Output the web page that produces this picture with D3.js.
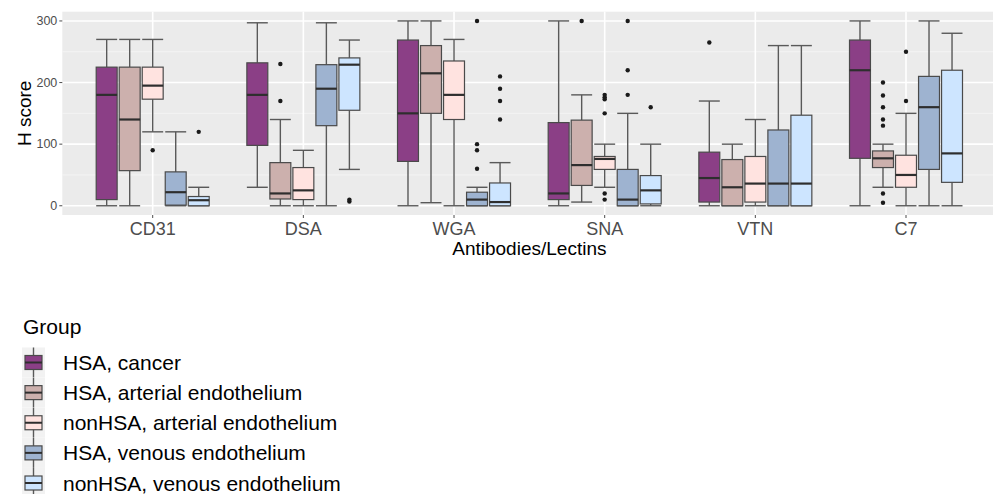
<!DOCTYPE html>
<html>
<head>
<meta charset="utf-8">
<script src="https://cdn.jsdelivr.net/npm/d3@7"></script>
<style>
  html, body { margin: 0; padding: 0; background: #fff; }
  svg { display: block; font-family: "Liberation Sans", Arial, sans-serif; }
</style>
</head>
<body>
<svg id="chart" width="993" height="494"></svg>
<script>
// ---------- data ----------
const categories = ["CD31", "DSA", "WGA", "SNA", "VTN", "C7"];
const groups = ["HSA, cancer", "HSA, arterial endothelium", "nonHSA, arterial endothelium",
                "HSA, venous endothelium", "nonHSA, venous endothelium"];
const groupColors = ["#8B3F86", "#CCB0AD", "#FFE3E0", "#9EB3D0", "#CDE5FF"];
const yTicks = [0, 100, 200, 300];

// [lower whisker, Q1, median, Q3, upper whisker] per category
const statsCancer       = [[0,10,180,225,270],[30,98,180,232,297],[0,72,150,269,300],[0,10,20,135,300],[0,6,45,87,170],[0,77,220,269,300]];
const statsArterialHSA  = [[0,57,140,225,270],[0,11,20,70,140],[5,150,215,260,300],[6,33,66,139,180],[0,0,30,75,100],[30,62,77,89,100]];
const statsArterialNon  = [[120,173,195,225,270],[0,10,25,62,90],[0,140,180,235,270],[30,59,76,80,100],[0,6,36,80,140],[0,30,50,82,150]];
const statsVenousHSA    = [[0,1,22,55,120],[0,130,190,229,297],[0,0,10,22,30],[0,0,10,59,150],[0,0,36,123,260],[0,59,160,210,300]];
const statsVenousNon    = [[0,0,9,15,30],[59,155,229,240,269],[0,0,6,37,70],[0,3,25,49,100],[0,0,36,147,260],[0,38,85,220,280]];

// outliers per category
const outCancer      = [[],[],[],[],[265],[]];
const outArterialHSA = [[],[230,170],[],[300],[],[200,179,160,140,130,20,5]];
const outArterialNon = [[90],[],[],[180,176,173,150,20,10],[],[250,170]];
const outVenousHSA   = [[],[],[300,100,90,60],[300,220,180],[],[]];
const outVenousNon   = [[120],[10,7],[210,190,170,140],[160],[],[]];

const allStats = [statsCancer, statsArterialHSA, statsArterialNon, statsVenousHSA, statsVenousNon];
const allOut = [outCancer, outArterialHSA, outArterialNon, outVenousHSA, outVenousNon];

// ---------- layout ----------
const svg = d3.select("#chart");
const panel = { left: 62.3, top: 11.7, bottom: 215, right: 996.4 };

const x = d3.scalePoint().domain(categories).range([panel.left, panel.right]).padding(0.6);
const step = x.step();
const xg = d3.scaleBand().domain(groups).range([-0.375 * step, 0.375 * step]).paddingInner(0.09);
const y = d3.scaleLinear().domain([-15, 315]).range([panel.bottom, panel.top]);

// panel background
svg.append("rect")
  .attr("x", panel.left).attr("y", panel.top)
  .attr("width", panel.right - panel.left).attr("height", panel.bottom - panel.top)
  .attr("fill", "#EBEBEB");

// minor gridlines
const minor = [50, 150, 250];
svg.append("g").selectAll("line").data(minor).join("line")
  .attr("x1", panel.left).attr("x2", panel.right)
  .attr("y1", d => y(d)).attr("y2", d => y(d))
  .attr("stroke", "#F5F5F5").attr("stroke-width", 0.9);
// major gridlines
svg.append("g").selectAll("line").data(yTicks).join("line")
  .attr("x1", panel.left).attr("x2", panel.right)
  .attr("y1", d => y(d)).attr("y2", d => y(d))
  .attr("stroke", "#FFFFFF").attr("stroke-width", 1.6);
svg.append("g").selectAll("line").data(categories).join("line")
  .attr("x1", d => x(d)).attr("x2", d => x(d))
  .attr("y1", panel.top).attr("y2", panel.bottom)
  .attr("stroke", "#FFFFFF").attr("stroke-width", 1.6);

// ---------- boxes ----------
const bw = xg.bandwidth();
groups.forEach((g, gi) => {
  const gEl = svg.append("g");
  categories.forEach((c, ci) => {
    const s = allStats[gi][ci];
    const x0 = x(c) + xg(g);
    const xc = x0 + bw / 2;
    // whiskers
    gEl.append("line").attr("x1", xc).attr("x2", xc).attr("y1", y(s[3])).attr("y2", y(s[4]))
      .attr("stroke", "#595959").attr("stroke-width", 1.4);
    gEl.append("line").attr("x1", xc).attr("x2", xc).attr("y1", y(s[1])).attr("y2", y(s[0]))
      .attr("stroke", "#595959").attr("stroke-width", 1.4);
    // caps
    [s[0], s[4]].forEach(v => {
      gEl.append("line").attr("x1", x0).attr("x2", x0 + bw).attr("y1", y(v)).attr("y2", y(v))
        .attr("stroke", "#595959").attr("stroke-width", 1.4);
    });
    // box
    gEl.append("rect").attr("x", x0).attr("width", bw)
      .attr("y", y(s[3])).attr("height", Math.max(0.5, y(s[1]) - y(s[3])))
      .attr("fill", groupColors[gi]).attr("stroke", "#4A4A4A").attr("stroke-width", 1.2);
    // median
    gEl.append("line").attr("x1", x0).attr("x2", x0 + bw).attr("y1", y(s[2])).attr("y2", y(s[2]))
      .attr("stroke", "#2E2E2E").attr("stroke-width", 2.2);
    // outliers
    gEl.selectAll(null).data(allOut[gi][ci]).join("circle")
      .attr("cx", xc).attr("cy", d => y(d)).attr("r", 2.2).attr("fill", "#1A1A1A");
  });
});

// ---------- axes ----------
const yAxis = svg.append("g");
yAxis.selectAll("line").data(yTicks).join("line")
  .attr("x1", panel.left - 3).attr("x2", panel.left)
  .attr("y1", d => y(d)).attr("y2", d => y(d))
  .attr("stroke", "#4D4D4D").attr("stroke-width", 1);
yAxis.selectAll("text").data(yTicks).join("text")
  .attr("x", panel.left - 5).attr("y", d => y(d))
  .attr("text-anchor", "end").attr("dominant-baseline", "central")
  .attr("font-size", 12.5).attr("fill", "#4D4D4D").text(d => d);

const xAxis = svg.append("g");
xAxis.selectAll("line").data(categories).join("line")
  .attr("x1", d => x(d)).attr("x2", d => x(d))
  .attr("y1", panel.bottom).attr("y2", panel.bottom + 3)
  .attr("stroke", "#4D4D4D").attr("stroke-width", 1);
xAxis.selectAll("text").data(categories).join("text")
  .attr("x", d => x(d)).attr("y", 235)
  .attr("text-anchor", "middle")
  .attr("font-size", 18).attr("fill", "#4D4D4D").text(d => d);

svg.append("text")
  .attr("x", (panel.left + panel.right) / 2).attr("y", 255)
  .attr("text-anchor", "middle").attr("font-size", 19).attr("fill", "#000")
  .text("Antibodies/Lectins");

svg.append("text")
  .attr("transform", `translate(31, ${(panel.top + panel.bottom) / 2}) rotate(-90)`)
  .attr("text-anchor", "middle").attr("font-size", 19).attr("fill", "#000")
  .text("H score");

// ---------- legend ----------
const legend = svg.append("g");
legend.append("text").attr("x", 23).attr("y", 334)
  .attr("font-size", 21).attr("fill", "#000").text("Group");
const keyY = d3.scalePoint().domain(groups).range([362.5, 483]);
groups.forEach((g, gi) => {
  const cy = keyY(g);
  legend.append("rect").attr("x", 22).attr("y", cy - 15).attr("width", 23).attr("height", 30)
    .attr("fill", "#F2F2F2");
  legend.append("line").attr("x1", 33.5).attr("x2", 33.5).attr("y1", cy - 15).attr("y2", cy + 15)
    .attr("stroke", "#595959").attr("stroke-width", 1.4);
  legend.append("rect").attr("x", 25).attr("y", cy - 7).attr("width", 17).attr("height", 14)
    .attr("fill", groupColors[gi]).attr("stroke", "#4A4A4A").attr("stroke-width", 1.2);
  legend.append("line").attr("x1", 25).attr("x2", 42).attr("y1", cy).attr("y2", cy)
    .attr("stroke", "#2E2E2E").attr("stroke-width", 2);
  legend.append("text").attr("x", 63).attr("y", cy).attr("dominant-baseline", "central")
    .attr("font-size", 21).attr("fill", "#000").text(g);
});
</script>
</body>
</html>
